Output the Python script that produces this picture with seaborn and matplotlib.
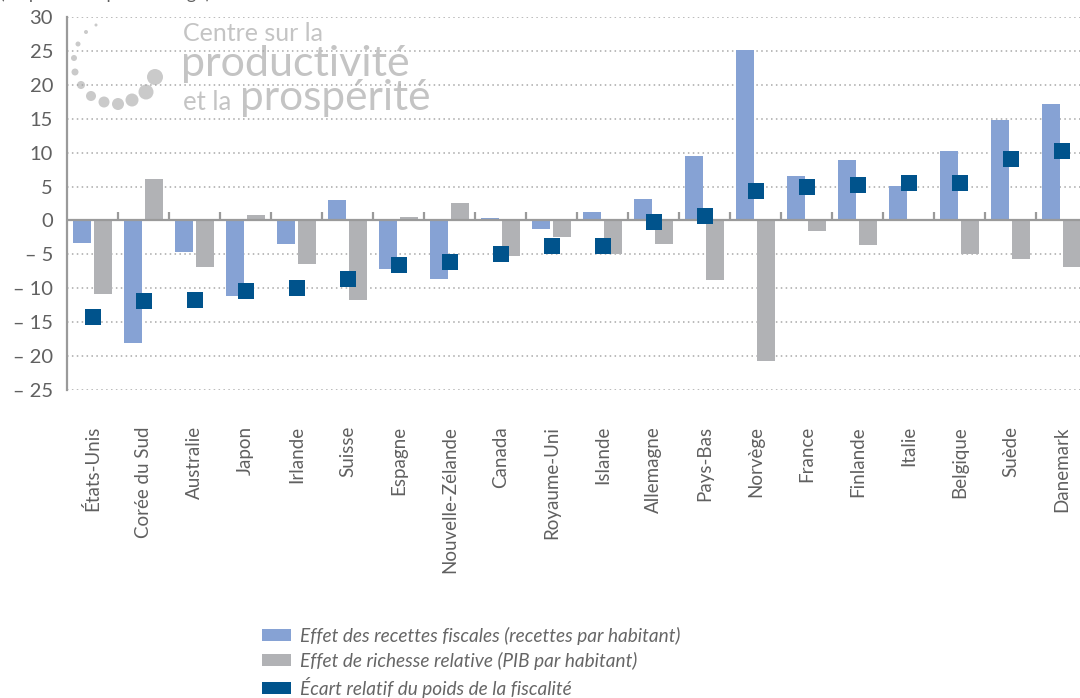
import matplotlib
matplotlib.use("Agg")
import matplotlib.pyplot as plt
from matplotlib.patches import Patch
import seaborn as sns
import pandas as pd
import numpy as np

pays = ["États-Unis", "Corée du Sud", "Australie", "Japon", "Irlande", "Suisse",
        "Espagne", "Nouvelle-Zélande", "Canada", "Royaume-Uni", "Islande",
        "Allemagne", "Pays-Bas", "Norvège", "France", "Finlande", "Italie",
        "Belgique", "Suède", "Danemark"]
effet_recettes = [-3.3, -18.0, -4.7, -11.2, -3.5, 3.0, -7.1, -8.6, 0.3, -1.3,
                  1.3, 3.2, 9.5, 25.2, 6.5, 8.9, 5.1, 10.3, 14.8, 17.2]
effet_richesse = [-10.9, 6.1, -6.9, 0.8, -6.4, -11.8, 0.5, 2.6, -5.3, -2.4,
                  -4.9, -3.4, -8.8, -20.7, -1.5, -3.6, 0.25, -4.9, -5.7, -6.9]
ecart_fiscalite = [-14.2, -11.9, -11.7, -10.4, -9.9, -8.7, -6.5, -6.1, -5.0, -3.7,
                   -3.7, -0.3, 0.7, 4.4, 4.9, 5.3, 5.5, 5.5, 9.0, 10.2]
series_noms = ["Effet des recettes fiscales (recettes par habitant)",
               "Effet de richesse relative (PIB par habitant)",
               "Écart relatif du poids de la fiscalité"]
yticks = [-25, -20, -15, -10, -5, 0, 5, 10, 15, 20, 25, 30]

BLUE = "#86A2D4"
GRAY = "#B1B2B5"
NAVY = "#00538C"
AXCOL = "#9A9A9A"
TXT = "#606060"

df = pd.DataFrame({
    "pays": pays * 2,
    "valeur": effet_recettes + effet_richesse,
    "serie": [series_noms[0]] * len(pays) + [series_noms[1]] * len(pays),
})

sns.set_theme(style="white")
plt.rcParams["font.family"] = ["Lato", "DejaVu Sans"]

fig = plt.figure(figsize=(10.8, 6.98), dpi=100)

# logo layer (decoration, behind the chart)
ov = fig.add_axes([0, 0, 1, 1], zorder=0)
ov.set_xlim(0, 1080)
ov.set_ylim(698, 0)
ov.axis("off")
dots_x = [96, 86, 78, 74, 75, 81, 91, 104, 118, 132, 146, 155]
dots_y = [25, 32, 44, 58, 72, 85, 96, 102, 104, 100, 92, 77]
dots_r = [1.5, 2, 2.5, 3, 3.5, 4, 5, 5.5, 6, 6.5, 7.5, 8]
ov.scatter(dots_x, dots_y, s=[(2 * r / 1.389) ** 2 for r in dots_r],
           color="#CACACA", linewidths=0)
LOGO = "#C4C4C4"
ov.text(183, 41, "Centre sur la", fontsize=18, color=LOGO, va="baseline",
        ha="left")
ov.text(181, 76, "productivité", fontsize=31, color=LOGO, va="baseline",
        ha="left")
ov.text(183, 110, "et la", fontsize=18.5, color=LOGO, va="baseline",
        ha="left")
ov.text(240, 110, "prospérité", fontsize=30.5, color=LOGO, va="baseline",
        ha="left")

ax = fig.add_axes([67 / 1080, (698 - 390) / 698, 1020 / 1080, (390 - 17) / 698],
                  zorder=1)
ax.patch.set_alpha(0)

sns.barplot(data=df, x="pays", y="valeur", hue="serie", order=pays,
            hue_order=series_noms[:2], palette=[BLUE, GRAY], saturation=1,
            width=0.8, gap=0.1, legend=False, ax=ax, zorder=2, linewidth=0)
sns.stripplot(x=pays, y=ecart_fiscalite, order=pays, marker="s", size=11.5,
              color=NAVY, jitter=False, linewidth=0, ax=ax, zorder=4)

n = len(pays)
ax.set_xlim(-0.5, n - 0.5)
ax.set_ylim(-25, 30)
ax.set_yticks(yticks)
ax.set_yticklabels([str(v) if v >= 0 else "\u2013 " + str(-v) for v in yticks])
ax.set_xlabel("")
ax.set_ylabel("")

# dotted gridlines
for v in yticks:
    if v != 0:
        ax.axhline(v, color="#A8A8A8", lw=1.1, ls=(0, (1, 2.2)), zorder=1)
# zero line and small separators
ax.axhline(0, color=AXCOL, lw=1.6, zorder=3)
bounds = np.arange(n - 1) + 0.5
ax.vlines(bounds, 0, 1.3, color=AXCOL, lw=1.6, zorder=3)

for s in ["top", "right", "bottom"]:
    ax.spines[s].set_visible(False)
ax.spines["left"].set_color(AXCOL)
ax.spines["left"].set_linewidth(1.6)

ax.tick_params(axis="y", length=0, pad=10, labelsize=14.5, labelcolor=TXT)
ax.tick_params(axis="x", length=0, pad=26, labelsize=13.5, labelcolor=TXT,
               rotation=90)
for lab in ax.get_xticklabels():
    lab.set_va("top")
    lab.set_ha("center")

# legend
handles = [Patch(facecolor=BLUE, edgecolor="none"),
           Patch(facecolor=GRAY, edgecolor="none"),
           Patch(facecolor=NAVY, edgecolor="none")]
leg = fig.legend(handles, series_noms, loc="upper left",
                 bbox_to_anchor=(262 / 1080, 1 - 627 / 698), frameon=False,
                 borderpad=0, borderaxespad=0, handlelength=1.55,
                 handleheight=0.6, handletextpad=0.45, labelspacing=0.36,
                 prop={"family": "Lato", "style": "italic", "size": 13.7})
for t in leg.get_texts():
    t.set_color("#666666")

# cropped subtitle at the very top (cut off in the original as well)
fig.text(0.0, 1 + 1 / 698, "(en points de pourcentage)", fontsize=13,
         color=TXT, va="baseline", ha="left")

fig.savefig("out.png", dpi=100)
